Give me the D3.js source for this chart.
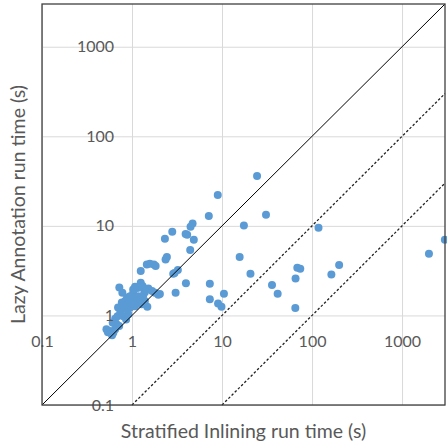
<!DOCTYPE html>
<html>
<head>
<meta charset="utf-8">
<script src="https://cdnjs.cloudflare.com/ajax/libs/d3/7.8.5/d3.min.js"></script>
<style>
  body { margin: 0; background: #fff; }
  text { font-family: Lato, "Open Sans", sans-serif; fill: #595959; }
</style>
</head>
<body>
<svg id="chart" width="447" height="445"></svg>
<script>
// run times in seconds
var stratified = [24.5, 8.97, 7.13, 30.8, 17.5, 118, 15.7, 20.7, 68.6, 74, 200, 164, 65.6, 7.32, 35.9,
  41.5, 10.5, 7.32, 9.04, 9.86, 65.2, 1990, 2990,
  4.71, 4.47, 3.94, 4.10, 2.80, 2.32, 4.86, 4.43, 2.44, 2.36, 1.46, 1.58, 1.75, 1.83, 1.25, 3.23, 2.97,
  2.87, 3.97, 3.05, 1.48, 0.723, 0.781,
  1.08, 1.15, 1.25, 1.31, 1.36, 1.52, 1.67, 1.80, 1.96, 2.04,
  0.95, 1.03, 1.08, 0.99, 1.13, 1.23, 1.17, 1.33, 1.39, 1.28, 1.08, 0.95, 0.87, 0.80, 0.77, 0.84,
  0.74, 0.69, 0.65, 0.61, 0.68, 0.72, 0.80, 0.91, 0.86,
  0.52, 0.57, 0.62, 0.60, 0.54, 0.65,
  0.90, 1.03, 1.39, 0.88, 0.70];
var lazy = [36, 22.1, 12.9, 13.3, 10.1, 9.55, 4.48, 2.92, 3.41, 3.32, 3.65, 2.87, 2.59, 2.26, 2.18,
  1.75, 1.75, 1.52, 1.36, 1.25, 1.21, 4.89, 7.0,
  10.6, 9.8, 8.1, 7.97, 8.61, 7.19, 7.01, 5.37, 4.48, 4.22, 3.71, 3.78, 3.71, 3.56, 3.13, 3.21, 2.97,
  2.92, 2.28, 1.79, 1.25, 2.05, 1.79,
  2.09, 2.02, 2.32, 2.13, 1.95, 2.00, 1.87, 1.79, 1.70, 1.73,
  1.64, 1.76, 1.58, 1.45, 1.41, 1.51, 1.64, 1.67, 1.45, 1.33, 1.27, 1.22, 1.17, 1.25, 1.39, 1.45,
  1.07, 0.98, 0.92, 0.83, 0.79, 0.76, 0.98, 1.03, 0.90,
  0.70, 0.67, 0.64, 0.60, 0.65, 0.70,
  1.33, 1.95, 1.81, 1.59, 1.23];

var tickValues = [0.1, 1, 10, 100, 1000];
var tickLabels = ["0.1", "1", "10", "100", "1000"];
var ratios = [1, 10, 100];   // y = x / ratio reference lines
var axisMin = 0.1, axisMax = 3000;

var svg = d3.select("#chart");
var plotLeft = 42, plotRight = 445, plotTop = 4, plotBottom = 405;

var x = d3.scaleLog().domain([axisMin, axisMax]).range([plotLeft, plotRight]);
var y = d3.scaleLog().domain([axisMin, axisMax]).range([plotBottom, plotTop]);

// gridlines
svg.append("g")
    .attr("transform", "translate(0," + plotBottom + ")")
    .call(d3.axisBottom(x).tickValues(tickValues).tickSize(-(plotBottom - plotTop)).tickFormat(""))
    .call(function(g) { g.select(".domain").remove(); })
    .selectAll("line").attr("stroke", "#d9d9d9");
svg.append("g")
    .attr("transform", "translate(" + plotLeft + ",0)")
    .call(d3.axisLeft(y).tickValues(tickValues).tickSize(-(plotRight - plotLeft)).tickFormat(""))
    .call(function(g) { g.select(".domain").remove(); })
    .selectAll("line").attr("stroke", "#d9d9d9");

// points
svg.append("g").selectAll("circle")
    .data(stratified.map(function(d, i) { return [d, lazy[i]]; }))
    .enter().append("circle")
    .attr("cx", function(d) { return x(d[0]); })
    .attr("cy", function(d) { return y(d[1]); })
    .attr("r", 4)
    .attr("fill", "#5b9bd5");

// reference lines
svg.append("g").selectAll("line")
    .data(ratios)
    .enter().append("line")
    .attr("x1", function(r) { return x(axisMin * r); })
    .attr("y1", y(axisMin))
    .attr("x2", x(axisMax))
    .attr("y2", function(r) { return y(axisMax / r); })
    .attr("stroke", function(r) { return r == 1 ? "#000" : "#222"; })
    .attr("stroke-width", function(r) { return r == 1 ? 1 : 1.3; })
    .attr("stroke-dasharray", function(r) { return r == 1 ? null : "2.5,2"; });

// tick labels, axes cross at (1, 1)
var xAxis = svg.append("g")
    .attr("transform", "translate(0," + y(1) + ")")
    .call(d3.axisBottom(x).tickValues(tickValues).tickSize(0).tickPadding(20)
        .tickFormat(function(d, i) { return tickLabels[i]; }));
var yAxis = svg.append("g")
    .attr("transform", "translate(" + x(1) + ",0)")
    .call(d3.axisLeft(y).tickValues(tickValues).tickSize(0).tickPadding(18)
        .tickFormat(function(d, i) { return tickLabels[i]; }));
[xAxis, yAxis].forEach(function(g) {
    g.select(".domain").remove();
    g.attr("font-family", null).attr("font-size", 16);
    g.selectAll("text").attr("fill", "#595959");
});

// plot border
svg.append("rect")
    .attr("x", plotLeft).attr("y", plotTop)
    .attr("width", plotRight - plotLeft).attr("height", plotBottom - plotTop)
    .attr("fill", "none").attr("stroke", "#404040").attr("stroke-width", 1.3);

// axis titles
svg.append("text")
    .attr("x", (plotLeft + plotRight) / 2).attr("y", 438)
    .attr("text-anchor", "middle").attr("font-size", 19.5)
    .text("Stratified Inlining run time (s)");
svg.append("text")
    .attr("transform", "translate(25," + (plotTop + plotBottom) / 2 + ") rotate(-90)")
    .attr("text-anchor", "middle").attr("font-size", 19.5)
    .text("Lazy Annotation run time (s)");
</script>
</body>
</html>
